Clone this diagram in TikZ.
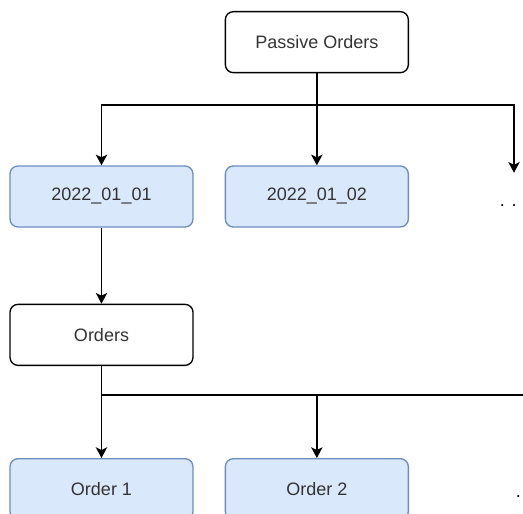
\documentclass[tikz,border=0pt]{standalone}
\usepackage{fontspec}
\setmainfont{Liberation Sans}
\usetikzlibrary{positioning,arrows.meta}
\definecolor{dayfill}{HTML}{DAE8FC}
\definecolor{dayline}{HTML}{6C8EBF}
\definecolor{labeltext}{HTML}{333333}
\tikzset{
	folder/.style={draw=black, rounded corners=6pt, line width=1pt,
		minimum width=137.25pt, minimum height=45.75pt, inner sep=0pt,
		text=labeltext, font=\fontsize{13.5}{16}\selectfont},
	leaf/.style={folder, draw=dayline, fill=dayfill},
	moredots/.style={inner sep=0pt, minimum height=49.5pt, font=\fontsize{13.5}{16}\selectfont},
	link/.style={-{Stealth[length=8pt,width=8.5pt,inset=2pt]}, line width=1.1pt}
}

\begin{document}
\begin{tikzpicture}[x=0.75pt, y=-0.75pt, node distance=23.25pt]
	\useasboundingbox (0,0) rectangle (523,513);
	\clip (0,0) rectangle (523,513);

	% days
	\node[leaf] (day1) at (101.5,196.5) {2022\_01\_01};
	\node[leaf] (day2) [right=of day1] {2022\_01\_02};
	\node[moredots] (more1) at (514,206) {. . .};
	\node[folder] (passive) [above=69pt of day2] {Passive Orders};

	\coordinate (bus1) at (315.5,105);
	\draw[link] (passive.south) -- (day2.north);
	\draw[link] (bus1) -| (day1.north);
	\draw[link] (bus1) -| (more1.north);

	% orders of one day
	\node[folder] (orders) [below=57pt of day1] {Orders};
	\node[leaf] (order1) [below=69pt of orders] {Order 1};
	\node[leaf] (order2) [right=of order1] {Order 2};
	\node[moredots] (more2) at (530,497) {. . .};

	\draw[link] (day1.south) -- (orders.north);

	\coordinate (bus2) at (101.5,395);
	\draw[link] (orders.south) -- (order1.north);
	\draw[link] (bus2) -| (order2.north);
	\draw[link] (bus2) -| (more2.north);
\end{tikzpicture}
\end{document}
